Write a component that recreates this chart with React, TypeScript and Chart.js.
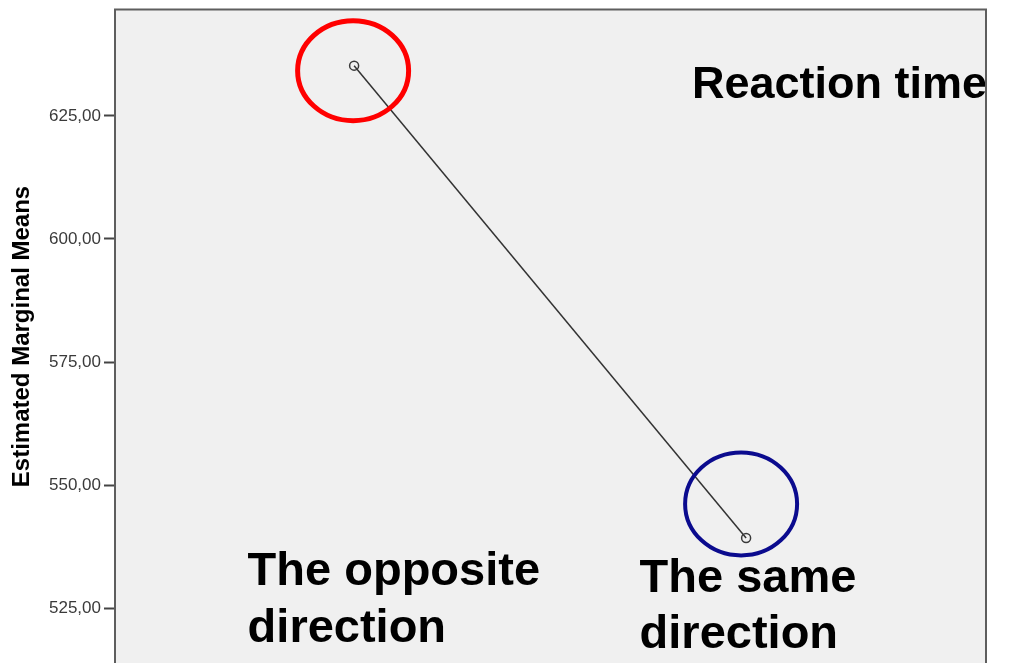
import React, { useEffect, useRef } from "react";
import { Chart, registerables } from "chart.js";

Chart.register(...registerables);

// ---- data ----
const categories = ["The opposite direction", "The same direction"];
const categoryIndex = [0, 1];
const meanValues = [635.2, 539.3];
const yTicks = [525, 550, 575, 600, 625];
const yMin = 513.9;
const yMax = 646.5;
const xMin = -0.61;
const xMax = 1.612;
const yTitle = "Estimated Marginal Means";
const cornerLabel = "Reaction time";
const pointLabelLines = [
  ["The opposite", "direction"],
  ["The same", "direction"],
];
const circleColors = ["#ff0000", "#0b0b8e"];

const FONT = "'Liberation Sans', Arial, Helvetica, sans-serif";

const framePlugin = {
  id: "frame",
  beforeDraw(chart: any) {
    const { ctx, chartArea: a } = chart;
    ctx.save();
    ctx.fillStyle = "#f0f0f0";
    ctx.fillRect(a.left, a.top, a.right - a.left, a.bottom - a.top + 10);
    ctx.restore();
  },
  afterDatasetsDraw(chart: any) {
    const { ctx, chartArea: a } = chart;
    const pts = chart.getDatasetMeta(0).data;
    // highlight ellipses around the two means
    const specs = [
      { dx: -1, dy: 5, rx: 55.5, ry: 50, w: 5 },
      { dx: -5, dy: -34, rx: 56, ry: 51.5, w: 4 },
    ];
    ctx.save();
    pts.forEach((p: any, i: number) => {
      const s = specs[i];
      ctx.beginPath();
      ctx.ellipse(p.x + s.dx, p.y + s.dy, s.rx, s.ry, 0, 0, Math.PI * 2);
      ctx.lineWidth = s.w;
      ctx.strokeStyle = circleColors[i];
      ctx.stroke();
    });
    // text annotations
    ctx.fillStyle = "#000";
    ctx.textAlign = "left";
    ctx.textBaseline = "alphabetic";
    ctx.font = `bold 45px ${FONT}`;
    ctx.fillText(cornerLabel, a.right - 294, 98);
    ctx.font = `bold 47px ${FONT}`;
    const baselines = [
      [585, 642],
      [592, 648],
    ];
    pts.forEach((p: any, i: number) => {
      pointLabelLines[i].forEach((line, j) => {
        ctx.fillText(line, p.x - 106.5, baselines[i][j]);
      });
    });
    ctx.restore();
  },
  afterDraw(chart: any) {
    const { ctx, chartArea: a } = chart;
    ctx.save();
    ctx.strokeStyle = "#5e5e5e";
    ctx.lineWidth = 2;
    ctx.strokeRect(a.left, a.top - 0.5, a.right - a.left, a.bottom - a.top + 20);
    ctx.restore();
  },
};

export default function App() {
  const ref = useRef<HTMLCanvasElement | null>(null);

  useEffect(() => {
    if (!ref.current) return;
    const chart = new Chart(ref.current, {
      type: "line",
      data: {
        labels: categories,
        datasets: [
          {
            label: "Estimated Marginal Means",
            data: categoryIndex.map((x, i) => ({ x, y: meanValues[i] })),
            borderColor: "#333333",
            borderWidth: 1.5,
            pointRadius: 4.5,
            pointBorderWidth: 1.5,
            pointBorderColor: "#3a3a3a",
            pointBackgroundColor: "rgba(0,0,0,0)",
            tension: 0,
          },
        ],
      },
      options: {
        responsive: false,
        animation: false,
        devicePixelRatio: 1,
        layout: { autoPadding: false, padding: { left: 0, right: 23, top: 10, bottom: 0 } },
        plugins: {
          legend: { display: false },
          tooltip: { enabled: false },
          title: { display: false },
        },
        scales: {
          x: {
            type: "linear",
            min: xMin,
            max: xMax,
            display: false,
          },
          y: {
            type: "linear",
            min: yMin,
            max: yMax,
            afterBuildTicks(scale: any) {
              scale.ticks = yTicks.map((v) => ({ value: v }));
            },
            afterFit(scale: any) {
              scale.width = 115;
              scale.paddingTop = 0;
              scale.paddingBottom = 0;
            },
            grid: {
              drawOnChartArea: false,
              drawTicks: true,
              tickLength: 11,
              tickWidth: 2,
              tickColor: "#444444",
            },
            border: { display: false },
            ticks: {
              padding: 3,
              color: "#3a3a3a",
              font: { family: FONT, size: 17 },
              callback: (v: any) => Number(v).toFixed(2).replace(".", ","),
            },
            title: {
              display: true,
              text: yTitle,
              color: "#000",
              font: { family: FONT, size: 24, weight: "bold" },
              padding: { top: 8, bottom: 0 },
            },
          },
        },
      },
      plugins: [framePlugin],
    });
    return () => chart.destroy();
  }, []);

  return (
    <div style={{ position: "absolute", left: 0, top: 0, width: 1009, height: 663, background: "#fff" }}>
      <canvas ref={ref} width={1009} height={663} style={{ display: "block" }} />
    </div>
  );
}
